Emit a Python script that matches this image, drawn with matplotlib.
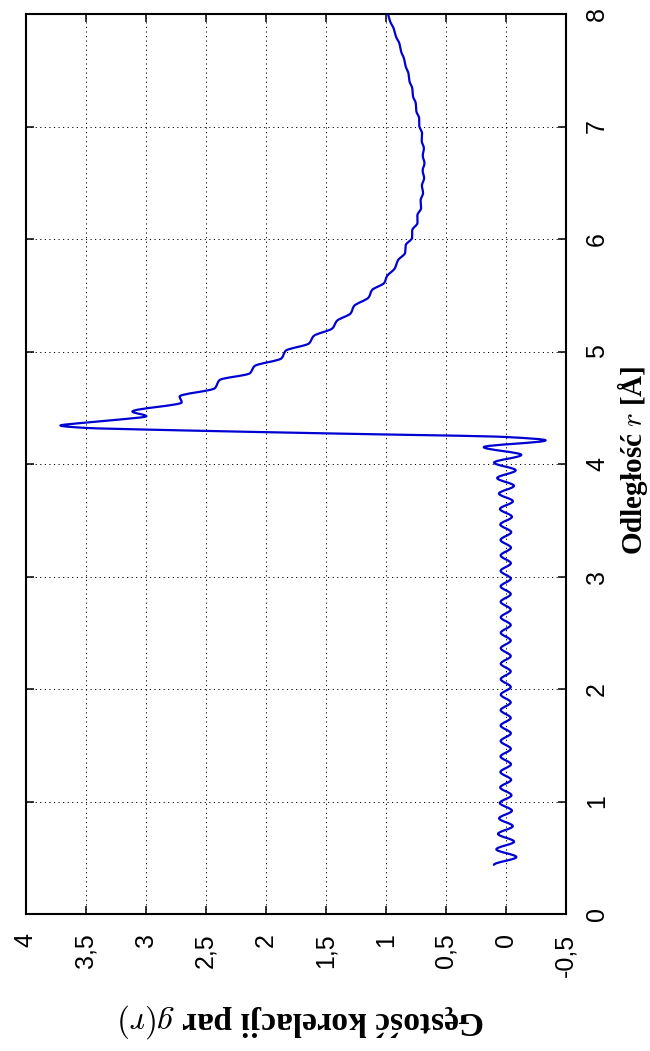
import numpy as np
import matplotlib
matplotlib.use("Agg")
import matplotlib.pyplot as plt
from matplotlib.path import Path
from matplotlib.patches import PathPatch

# ---------------- data ----------------
# ripple region (extrema of the truncation ripple), r in Angstrom
r_ripple = [0.437, 0.506, 0.575, 0.643, 0.712, 0.781, 0.850, 0.918, 0.987, 1.056,
            1.125, 1.193, 1.262, 1.331, 1.400, 1.468, 1.537, 1.606, 1.675, 1.743,
            1.812, 1.881, 1.950, 2.018, 2.087, 2.156, 2.225, 2.293, 2.362, 2.431,
            2.500, 2.569, 2.637, 2.706, 2.775, 2.844, 2.912, 2.981, 3.050, 3.118,
            3.187, 3.256, 3.325, 3.394, 3.462, 3.531, 3.600, 3.669, 3.737, 3.806,
            3.875, 3.944, 4.012, 4.081, 4.150]
g_ripple = [0.098, -0.089, 0.078, -0.070, 0.064, -0.059, 0.055, -0.052, 0.049, -0.048,
            0.046, -0.045, 0.044, -0.044, 0.043, -0.043, 0.042, -0.043, 0.042, -0.042,
            0.042, -0.042, 0.041, -0.042, 0.041, -0.042, 0.041, -0.042, 0.041, -0.042,
            0.041, -0.042, 0.041, -0.042, 0.042, -0.042, 0.042, -0.043, 0.042, -0.043,
            0.042, -0.044, 0.043, -0.046, 0.045, -0.052, 0.048, -0.060, 0.056, -0.069,
            0.071, -0.083, 0.097, -0.130, 0.183]

# main peak
r_peak = [4.210, 4.240, 4.270, 4.300, 4.322, 4.342, 4.362, 4.395, 4.425, 4.466]
g_peak = [-0.333, 0.000, 1.380, 2.750, 3.520, 3.711, 3.560, 3.220, 2.994, 3.111]

# falling flank (corners of the wavy steps)
r_fall = [4.548, 4.600, 4.673, 4.747, 4.806, 4.871, 4.939, 5.007, 5.072, 5.138,
          5.206, 5.273, 5.339, 5.404, 5.481, 5.546, 5.610, 5.670, 5.738]
g_fall = [2.700, 2.717, 2.425, 2.383, 2.133, 2.092, 1.869, 1.833, 1.639, 1.600,
          1.444, 1.406, 1.292, 1.264, 1.142, 1.114, 1.012, 0.989, 0.925]

# tail
r_tail = [5.812, 5.878, 5.945, 6.011, 6.077, 6.144, 6.210, 6.276, 6.342, 6.409,
          6.475, 6.541, 6.608, 6.674, 6.740, 6.807, 6.873, 6.939, 7.006, 7.072,
          7.138, 7.204, 7.271, 7.337, 7.403, 7.470, 7.536, 7.602, 7.668, 7.735,
          7.801, 7.867, 7.934, 8.000]
g_tail = [0.897, 0.838, 0.833, 0.780, 0.779, 0.735, 0.736, 0.705, 0.709, 0.689,
          0.698, 0.680, 0.692, 0.677, 0.691, 0.682, 0.700, 0.697, 0.720, 0.721,
          0.745, 0.749, 0.773, 0.778, 0.802, 0.810, 0.834, 0.847, 0.872, 0.885,
          0.915, 0.932, 0.963, 0.981]

g_ticks = [4, 3.5, 3, 2.5, 2, 1.5, 1, 0.5, 0, -0.5]
g_tick_labels = ["4", "3,5", "3", "2,5", "2", "1,5", "1", "0,5", "0", "-0,5"]
r_ticks = [0, 1, 2, 3, 4, 5, 6, 7, 8]
r_tick_labels = ["0", "1", "2", "3", "4", "5", "6", "7", "8"]

xlabel_text = "Odległość $r$ [Å]"
ylabel_text = "Gęstość korelacji par $g(r)$"

# ---------------- drawing ----------------
plt.rcParams["mathtext.fontset"] = "cm"

r_all = np.array(r_ripple + r_peak + r_fall + r_tail, dtype=float)
g_all = np.array(g_ripple + g_peak + g_fall + g_tail, dtype=float)


def pchip_slopes(x, y):
    h = np.diff(x)
    d = np.diff(y) / h
    m = np.zeros_like(y)
    for k in range(1, len(x) - 1):
        if d[k - 1] * d[k] <= 0:
            m[k] = 0.0
        else:
            w1 = 2 * h[k] + h[k - 1]
            w2 = h[k] + 2 * h[k - 1]
            m[k] = (w1 + w2) / (w1 / d[k - 1] + w2 / d[k])
    m[0] = 0.0
    m[-1] = d[-1]
    return m


m = pchip_slopes(r_all, g_all)
verts = [(g_all[0], r_all[0])]
codes = [Path.MOVETO]
for k in range(len(r_all) - 1):
    h = r_all[k + 1] - r_all[k]
    verts.append((g_all[k] + m[k] * h / 3, r_all[k] + h / 3))
    verts.append((g_all[k + 1] - m[k + 1] * h / 3, r_all[k + 1] - h / 3))
    verts.append((g_all[k + 1], r_all[k + 1]))
    codes += [Path.CURVE4] * 3

fig = plt.figure(figsize=(6.5, 10.51), dpi=100)
ax = fig.add_axes([25.7 / 650, 1 - 914 / 1051, 540 / 650, 900 / 1051])

ax.add_patch(PathPatch(Path(verts, codes), facecolor="none", edgecolor="#0000d2",
                       lw=1.6, joinstyle="round", capstyle="round", zorder=3))

ax.set_xlim(4, -0.5)
ax.set_ylim(0, 8)
ax.set_xticks(g_ticks)
ax.set_xticklabels(g_tick_labels, rotation=90, family="Liberation Sans", fontsize=18)
ax.set_yticks(r_ticks)
ax.set_yticklabels(r_tick_labels, rotation=90, va="center", family="Liberation Sans", fontsize=18)

ax.grid(True, color="black", linestyle=(0, (1.2, 3.5)), linewidth=0.7)
ax.tick_params(axis="both", direction="in", length=6, width=1.1,
               top=True, bottom=True, left=True, right=True,
               labelleft=False, labelright=True, labeltop=False, labelbottom=True)
ax.tick_params(axis="x", pad=14)
ax.tick_params(axis="y", pad=14)
for s in ax.spines.values():
    s.set_linewidth(1.5)

fig.text(632 / 650, 1 - 460 / 1051, xlabel_text, rotation=90, ha="center", va="center",
         fontsize=21, fontweight="bold", family="Liberation Serif")
fig.text(302 / 650, 1 - 1021 / 1051, ylabel_text, rotation=180, ha="center", va="center",
         fontsize=24, fontweight="bold", family="Liberation Serif")

fig.savefig("out.png", dpi=100)
